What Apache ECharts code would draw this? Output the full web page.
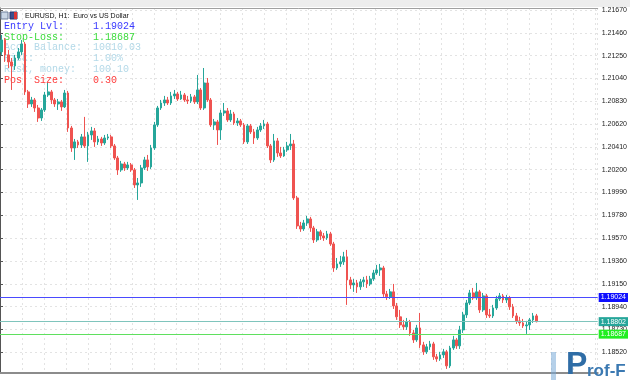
<!DOCTYPE html>
<html><head><meta charset="utf-8">
<script src="https://cdn.jsdelivr.net/npm/echarts@6/dist/echarts.min.js"></script>
<style>html,body{margin:0;padding:0;background:#fff}#c{width:630px;height:380px}</style>
</head><body><div id="c"></div>
<script>
// ---- data (EURUSD H1) ----
const opens = [1.21284,1.21394,1.21256,1.21192,1.21155,1.21228,1.21284,1.21357,1.20916,1.20805,
1.20842,1.20768,1.20676,1.20750,1.20888,1.20916,1.20842,1.20805,1.20824,1.20778,
1.20906,1.20584,1.20400,1.20456,1.20428,1.20502,1.20419,1.20520,1.20557,1.20456,
1.20483,1.20446,1.20492,1.20502,1.20419,1.20308,1.20198,1.20253,1.20216,1.20244,
1.20198,1.20060,1.20078,1.20216,1.20290,1.20226,1.20400,1.20612,1.20768,1.20814,
1.20842,1.20814,1.20879,1.20897,1.20851,1.20888,1.20842,1.20833,1.20870,1.20824,
1.20934,1.20768,1.20998,1.20842,1.20612,1.20640,1.20566,1.20722,1.20741,1.20658,
1.20713,1.20630,1.20649,1.20612,1.20456,1.20603,1.20548,1.20492,1.20566,1.20603,
1.20621,1.20419,1.20290,1.20465,1.20354,1.20327,1.20382,1.20419,1.20437,1.19940,
1.19683,1.19655,1.19710,1.19747,1.19664,1.19554,1.19628,1.19591,1.19572,1.19609,
1.19517,1.19296,1.19333,1.19352,1.19398,1.19186,1.19140,1.19158,1.19122,1.19168,
1.19186,1.19149,1.19195,1.19250,1.19278,1.19296,1.19057,1.19030,1.19076,1.18947,
1.18846,1.18772,1.18754,1.18800,1.18698,1.18634,1.18744,1.18588,1.18524,1.18570,
1.18597,1.18478,1.18459,1.18496,1.18524,1.18395,1.18560,1.18634,1.18579,1.18726,
1.18864,1.18974,1.19066,1.19020,1.19076,1.18910,1.19039,1.18864,1.18855,1.18928,
1.19011,1.19039,1.19002,1.19020,1.18938,1.18855,1.18809,1.18790,1.18763,1.18772,
1.18818,1.18855];
const closes = [1.21394,1.21256,1.21192,1.21155,1.21228,1.21284,1.21357,1.20916,1.20805,1.20842,
1.20768,1.20676,1.20750,1.20888,1.20916,1.20842,1.20805,1.20824,1.20778,1.20906,
1.20584,1.20400,1.20456,1.20428,1.20502,1.20419,1.20520,1.20557,1.20456,1.20483,
1.20446,1.20492,1.20502,1.20419,1.20308,1.20198,1.20253,1.20216,1.20244,1.20198,
1.20060,1.20078,1.20216,1.20290,1.20226,1.20400,1.20612,1.20768,1.20814,1.20842,
1.20814,1.20879,1.20897,1.20851,1.20888,1.20842,1.20833,1.20870,1.20824,1.20934,
1.20768,1.20998,1.20842,1.20612,1.20640,1.20566,1.20722,1.20741,1.20658,1.20713,
1.20630,1.20649,1.20612,1.20456,1.20603,1.20548,1.20492,1.20566,1.20603,1.20621,
1.20419,1.20290,1.20465,1.20354,1.20327,1.20382,1.20419,1.20437,1.19940,1.19683,
1.19655,1.19710,1.19747,1.19664,1.19554,1.19628,1.19591,1.19572,1.19609,1.19517,
1.19296,1.19333,1.19352,1.19398,1.19186,1.19140,1.19158,1.19122,1.19168,1.19186,
1.19149,1.19195,1.19250,1.19278,1.19296,1.19057,1.19030,1.19076,1.18947,1.18846,
1.18772,1.18754,1.18800,1.18698,1.18634,1.18744,1.18588,1.18524,1.18570,1.18597,
1.18478,1.18459,1.18496,1.18524,1.18395,1.18560,1.18634,1.18579,1.18726,1.18864,
1.18974,1.19066,1.19020,1.19076,1.18910,1.19039,1.18864,1.18855,1.18928,1.19011,
1.19039,1.19002,1.19020,1.18938,1.18855,1.18809,1.18790,1.18763,1.18772,1.18818,
1.18855,1.18802];
const highs = [1.21440,1.21412,1.21302,1.21228,1.21256,1.21320,1.21394,1.21376,1.20934,1.20870,
1.20860,1.20796,1.20768,1.20916,1.20998,1.20934,1.20860,1.20851,1.20842,1.20934,
1.20925,1.20603,1.20483,1.20474,1.20529,1.20686,1.20548,1.20594,1.20584,1.20511,
1.20502,1.20520,1.20529,1.20520,1.20437,1.20327,1.20281,1.20272,1.20272,1.20262,
1.20216,1.20124,1.20244,1.20318,1.20336,1.20428,1.20640,1.20787,1.20842,1.20879,
1.20870,1.20916,1.20934,1.20916,1.20925,1.20906,1.20879,1.20897,1.20888,1.21072,
1.20952,1.21136,1.21044,1.20860,1.20667,1.20658,1.20750,1.20814,1.20768,1.20750,
1.20732,1.20676,1.20667,1.20630,1.20621,1.20621,1.20575,1.20594,1.20630,1.20658,
1.20640,1.20437,1.20529,1.20492,1.20410,1.20410,1.20456,1.20529,1.20474,1.19959,
1.19720,1.19738,1.19775,1.19766,1.19683,1.19655,1.19646,1.19618,1.19637,1.19628,
1.19536,1.19388,1.19407,1.19444,1.19462,1.19214,1.19195,1.19186,1.19195,1.19214,
1.19223,1.19223,1.19278,1.19324,1.19333,1.19315,1.19085,1.19103,1.19149,1.18974,
1.18910,1.18818,1.18836,1.18818,1.18726,1.18772,1.18882,1.18616,1.18597,1.18625,
1.18616,1.18505,1.18524,1.18551,1.18542,1.18579,1.18671,1.18652,1.18763,1.18892,
1.19002,1.19094,1.19112,1.19158,1.19094,1.19066,1.19057,1.18919,1.18956,1.19039,
1.19066,1.19057,1.19048,1.19039,1.18965,1.18882,1.18846,1.18827,1.18809,1.18836,
1.18882,1.18873];
const lows = [1.21256,1.21192,1.21136,1.20934,1.21118,1.21210,1.21256,1.20888,1.20768,1.20778,
1.20732,1.20640,1.20649,1.20732,1.20870,1.20805,1.20778,1.20750,1.20741,1.20768,
1.20548,1.20364,1.20290,1.20400,1.20400,1.20400,1.20272,1.20474,1.20410,1.20428,
1.20419,1.20428,1.20474,1.20400,1.20290,1.20152,1.20180,1.20189,1.20198,1.20180,
1.20032,1.19922,1.20042,1.20198,1.20189,1.20207,1.20382,1.20594,1.20750,1.20787,
1.20796,1.20796,1.20851,1.20833,1.20842,1.20824,1.20805,1.20814,1.20805,1.20805,
1.20750,1.20750,1.20824,1.20594,1.20566,1.20428,1.20474,1.20695,1.20640,1.20640,
1.20612,1.20603,1.20594,1.20437,1.20437,1.20529,1.20437,1.20474,1.20548,1.20575,
1.20400,1.20262,1.20272,1.20318,1.20308,1.20318,1.20364,1.20382,1.19922,1.19655,
1.19628,1.19637,1.19683,1.19628,1.19526,1.19536,1.19554,1.19545,1.19554,1.19499,
1.19260,1.19278,1.19306,1.19324,1.18956,1.19103,1.19076,1.19066,1.19094,1.19122,
1.19112,1.19131,1.19177,1.19232,1.19223,1.19030,1.19002,1.19011,1.18919,1.18818,
1.18744,1.18726,1.18726,1.18671,1.18606,1.18616,1.18560,1.18496,1.18505,1.18542,
1.18450,1.18432,1.18441,1.18468,1.18367,1.18376,1.18542,1.18551,1.18551,1.18698,
1.18836,1.18956,1.19002,1.19002,1.18882,1.18892,1.18836,1.18836,1.18836,1.18910,
1.18993,1.18974,1.18974,1.18910,1.18836,1.18781,1.18763,1.18744,1.18689,1.18726,
1.18790,1.18795];
const priceTicks = [1.21670,1.21460,1.21250,1.21040,1.20830,1.20620,1.20410,1.20200,
1.19990,1.19780,1.19570,1.19360,1.19150,1.18940,1.18730,1.18520];
const entryLevel = 1.19024;
const bidLevel = 1.18802;
const stopLevel = 1.18687;
const infoLabels = ['Entry Lvl:','Stop-Loss:','Acc. Balance:','Risk:','Risk, money:','Pos. Size:'];
const infoValues = ['1.19024','1.18687','10010.03','1.00%','100.10','0.30'];
const chartTitle = 'EURUSD, H1:  Euro vs US Dollar';

// ---- build ----
const SLOTS = 180; // visible bar slots (chart shift leaves empty space at right)
const categories = [];
for (let i = 0; i < SLOTS; i++) categories.push(String(i));
const candleData = opens.map((o, i) => [o, closes[i], lows[i], highs[i]]);

const infoColors = ['#3a3aff','#3ddc3d','#b3d9e8','#b3d9e8','#b3d9e8','#ff3b3b'];
const infoRowsY = [26, 37, 47.5, 58, 69, 80];
const graphics = [
  {type:'rect', z:50, shape:{x:0,y:0,width:630,height:7}, style:{fill:'#ededed'}},
  {type:'rect', z:50, shape:{x:1,y:12,width:7,height:7}, style:{fill:'#c9d6e6', stroke:'#6d7f99', lineWidth:1}},
  {type:'rect', z:50, shape:{x:10,y:12,width:7,height:7}, style:{fill:'#3b4f8f', stroke:'#25326a', lineWidth:1}},
  {type:'rect', z:50, shape:{x:14,y:12,width:3,height:7}, style:{fill:'#d33'}},
  {type:'text', z:50, style:{x:25, y:16, text:chartTitle, fill:'#111', fontSize:7, fontFamily:'Liberation Sans', verticalAlign:'middle'}}
];
infoLabels.forEach((t, k) => {
  graphics.push({type:'text', z:1, style:{x:4, y:infoRowsY[k], text:t, fill:infoColors[k], fontSize:10, fontFamily:'Liberation Mono', verticalAlign:'middle'}});
  graphics.push({type:'text', z:1, style:{x:93, y:infoRowsY[k], text:infoValues[k], fill:infoColors[k], fontSize:10, fontFamily:'Liberation Mono', verticalAlign:'middle'}});
});
// watermark
graphics.push({type:'rect', z:60, shape:{x:551,y:352,width:5,height:28}, style:{fill:'rgba(120,170,215,0.55)'}});
graphics.push({type:'text', z:60, style:{x:566, y:381, text:'P', fill:'#2f6da6', fontSize:32, fontWeight:'bold', fontFamily:'Liberation Sans', verticalAlign:'bottom'}});
graphics.push({type:'text', z:60, style:{x:587, y:380, text:'rof-F', fill:'#3b79b2', fontSize:17, fontWeight:'bold', fontFamily:'Liberation Sans', verticalAlign:'bottom'}});

const levelSeries = (v, lineColor, boxColor) => ({
  type:'line', data:[], xAxisIndex:0, yAxisIndex:0, silent:true, z:3,
  markLine:{
    silent:true, symbol:['none','none'], animation:false, precision:5,
    lineStyle:{color:lineColor, width:1, type:'solid', opacity:1},
    label:{show:true, position:'end', distance:1, formatter: () => v.toFixed(5), color:'#fff',
           backgroundColor:boxColor, fontSize:7, fontFamily:'Liberation Sans', padding:[1,2,1,2]},
    data:[{yAxis:v}]
  }
});

const chart = echarts.init(document.getElementById('c'), null, {renderer:'canvas'});
chart.setOption({
  animation: false,
  backgroundColor: '#fff',
  grid: {left:0, right:31, top:8, bottom:7.5},
  xAxis: [
    {type:'category', data:categories, boundaryGap:true,
     axisLine:{show:true, lineStyle:{color:'#8c8c8c', width:2}},
     axisTick:{show:false}, axisLabel:{show:false}, splitLine:{show:false}},
    {type:'value', position:'top', min:0, max:599, interval:22.1,
     axisLine:{show:true, onZero:false, lineStyle:{color:'#a0a0a0', width:1}},
     axisTick:{show:false}, axisLabel:{show:false},
     splitLine:{show:true, lineStyle:{color:'#e3e3e3', type:[2,3], width:1}}}
  ],
  yAxis: {
    type:'value', position:'right', min:1.18334, max:1.21688, scale:true,
    axisLine:{show:true, lineStyle:{color:'#555', width:1}},
    axisTick:{show:true, length:3, inside:false, customValues:priceTicks, lineStyle:{color:'#555'}},
    axisLabel:{show:true, customValues:priceTicks, margin:4, fontSize:7, color:'#222',
               fontFamily:'Liberation Sans', formatter: v => v.toFixed(5)},
    splitLine:{show:true, lineStyle:{color:'#e3e3e3', type:[2,3], width:1}}
  },
  graphic: graphics,
  series: [
    {type:'candlestick', xAxisIndex:0, yAxisIndex:0, data:candleData, barWidth:2.3,
     itemStyle:{color:'#26a69a', color0:'#ef5350', borderColor:'#26a69a', borderColor0:'#ef5350', borderWidth:1}},
    levelSeries(entryLevel, '#4a4aff', '#1010ff'),
    levelSeries(bidLevel, '#7fc4bc', '#26a69a'),
    levelSeries(stopLevel, '#5fe05f', '#22ee22')
  ]
});
</script>
</body></html>
